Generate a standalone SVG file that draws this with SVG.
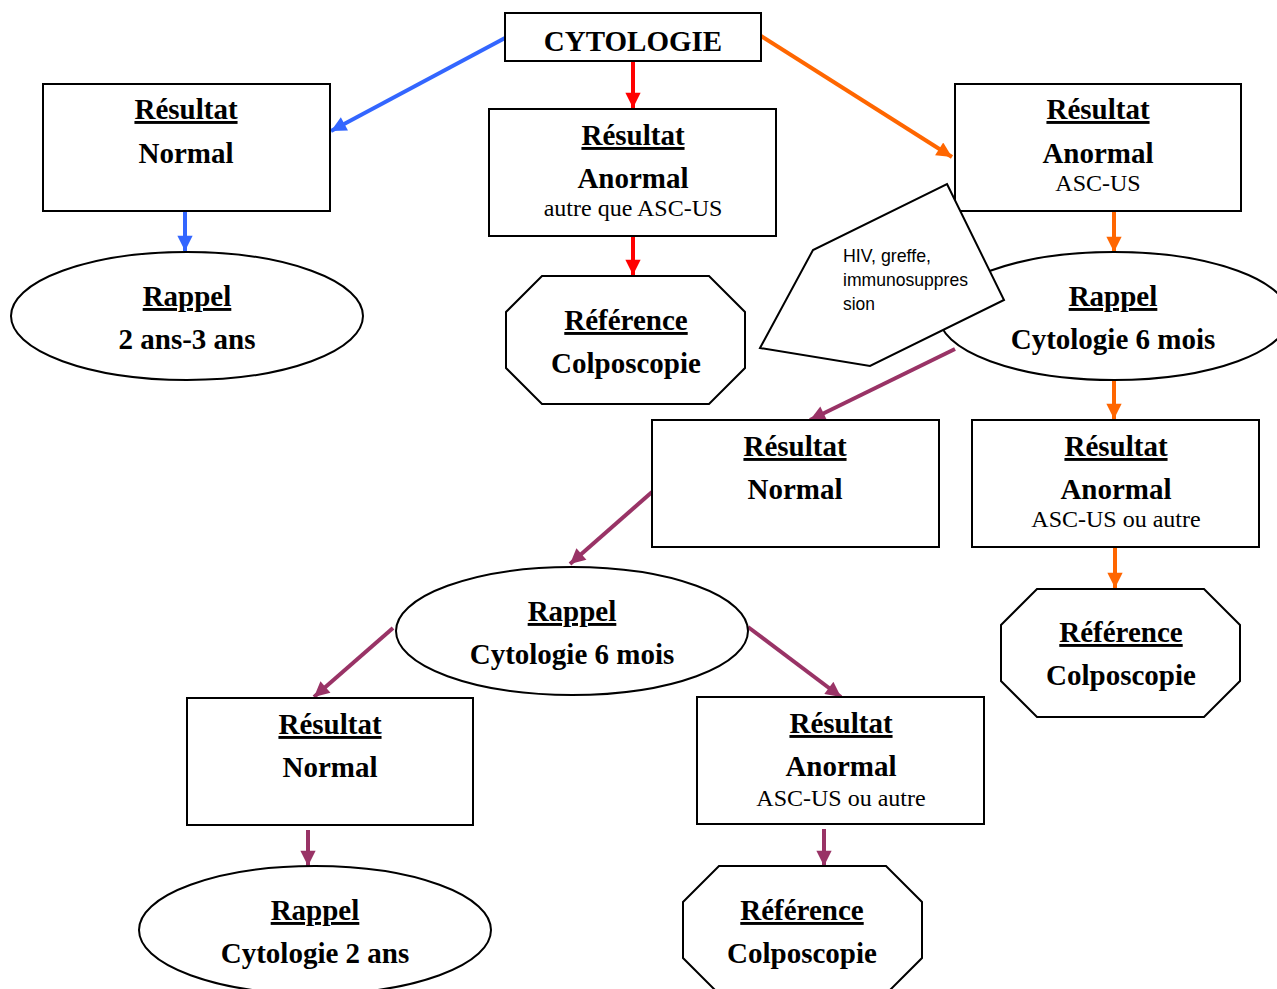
<svg xmlns="http://www.w3.org/2000/svg" width="1277" height="989" viewBox="0 0 1277 989">
<style>
.box{fill:#fff;stroke:#000;stroke-width:2}
.t{font-family:"Liberation Serif","Times New Roman",serif;font-weight:bold;font-size:29px;text-anchor:middle;fill:#000}
.u{text-decoration:underline}
.s{font-weight:normal;font-size:24px}
.n{font-family:"Liberation Sans Narrow","Liberation Sans",Arial,sans-serif;font-size:19px;fill:#000}
.c{fill:none;stroke-width:4}
.bl{stroke:#3366FF}.rd{stroke:#FF0000}.or{stroke:#FF6600}.pu{stroke:#993366}
</style>
<defs>
<marker id="ab" viewBox="0 0 10 10" refX="10" refY="5" markerWidth="4.2" markerHeight="3.8" orient="auto"><path d="M0,0L10,5L0,10z" fill="#3366FF"/></marker>
<marker id="ar" viewBox="0 0 10 10" refX="10" refY="5" markerWidth="4.2" markerHeight="3.8" orient="auto"><path d="M0,0L10,5L0,10z" fill="#FF0000"/></marker>
<marker id="ao" viewBox="0 0 10 10" refX="10" refY="5" markerWidth="4.2" markerHeight="3.8" orient="auto"><path d="M0,0L10,5L0,10z" fill="#FF6600"/></marker>
<marker id="ap" viewBox="0 0 10 10" refX="10" refY="5" markerWidth="4.2" markerHeight="3.8" orient="auto"><path d="M0,0L10,5L0,10z" fill="#993366"/></marker>
</defs>
<rect width="1277" height="989" fill="#fff"/>

<g id="connectors">
<line class="c bl" x1="505" y1="38" x2="331" y2="131" marker-end="url(#ab)"/>
<line class="c bl" x1="185" y1="211" x2="185" y2="251" marker-end="url(#ab)"/>
<line class="c rd" x1="633" y1="61" x2="633" y2="108" marker-end="url(#ar)"/>
<line class="c rd" x1="633" y1="236" x2="633" y2="275" marker-end="url(#ar)"/>
<line class="c or" x1="761" y1="36" x2="952" y2="157" marker-end="url(#ao)"/>
<line class="c or" x1="1114" y1="211" x2="1114" y2="252" marker-end="url(#ao)"/>
<line class="c or" x1="1114" y1="381" x2="1114" y2="419" marker-end="url(#ao)"/>
<line class="c or" x1="1115" y1="547" x2="1115" y2="588" marker-end="url(#ao)"/>
<line class="c pu" x1="955" y1="349" x2="810" y2="420" marker-end="url(#ap)"/>
<line class="c pu" x1="652" y1="492" x2="570" y2="564" marker-end="url(#ap)"/>
<line class="c pu" x1="393" y1="628" x2="314" y2="697" marker-end="url(#ap)"/>
<line class="c pu" x1="748" y1="627" x2="841" y2="697" marker-end="url(#ap)"/>
<line class="c pu" x1="308" y1="830" x2="308" y2="866" marker-end="url(#ap)"/>
<line class="c pu" x1="824" y1="829" x2="824" y2="866" marker-end="url(#ap)"/>
</g>

<g id="cytologie">
<rect class="box" x="505" y="13" width="256" height="48"/>
<text class="t" x="633" y="51">CYTOLOGIE</text>
</g>

<g id="res-normal-1">
<rect class="box" x="43" y="84" width="287" height="127"/>
<text class="t u" x="186" y="119">Résultat</text>
<text class="t" x="186" y="163">Normal</text>
</g>

<g id="rappel-1">
<ellipse class="box" cx="187" cy="316" rx="176" ry="64"/>
<text class="t u" x="187" y="306">Rappel</text>
<text class="t" x="187" y="349">2 ans-3 ans</text>
</g>

<g id="res-anormal-autre">
<rect class="box" x="489" y="109" width="287" height="127"/>
<text class="t u" x="633" y="145">Résultat</text>
<text class="t" x="633" y="188">Anormal</text>
<text class="t s" x="633" y="216">autre que ASC-US</text>
</g>

<g id="reference-1">
<polygon class="box" points="506,312 542,276 709,276 745,312 745,368 709,404 542,404 506,368"/>
<text class="t u" x="626" y="330">Référence</text>
<text class="t" x="626" y="373">Colposcopie</text>
</g>

<g id="res-anormal-ascus">
<rect class="box" x="955" y="84" width="286" height="127"/>
<text class="t u" x="1098" y="119">Résultat</text>
<text class="t" x="1098" y="163">Anormal</text>
<text class="t s" x="1098" y="191">ASC-US</text>
</g>

<g id="rappel-2">
<ellipse class="box" cx="1114" cy="316" rx="175" ry="64"/>
<text class="t u" x="1113" y="306">Rappel</text>
<text class="t" x="1113" y="349">Cytologie 6 mois</text>
</g>

<g id="callout">
<polygon class="box" points="947,184 1004,300 870,366 760,348 813,250"/>
<text class="n" x="843" y="262" textLength="88" lengthAdjust="spacingAndGlyphs">HIV, greffe,</text>
<text class="n" x="843" y="286" textLength="125" lengthAdjust="spacingAndGlyphs">immunosuppres</text>
<text class="n" x="843" y="310" textLength="32" lengthAdjust="spacingAndGlyphs">sion</text>
</g>

<g id="res-normal-2">
<rect class="box" x="652" y="420" width="287" height="127"/>
<text class="t u" x="795" y="456">Résultat</text>
<text class="t" x="795" y="499">Normal</text>
</g>

<g id="res-anormal-2">
<rect class="box" x="972" y="420" width="287" height="127"/>
<text class="t u" x="1116" y="456">Résultat</text>
<text class="t" x="1116" y="499">Anormal</text>
<text class="t s" x="1116" y="527">ASC-US ou autre</text>
</g>

<g id="reference-2">
<polygon class="box" points="1001,625 1037,589 1204,589 1240,625 1240,681 1204,717 1037,717 1001,681"/>
<text class="t u" x="1121" y="642">Référence</text>
<text class="t" x="1121" y="685">Colposcopie</text>
</g>

<g id="rappel-3">
<ellipse class="box" cx="572" cy="631" rx="176" ry="64"/>
<text class="t u" x="572" y="621">Rappel</text>
<text class="t" x="572" y="664">Cytologie 6 mois</text>
</g>

<g id="res-normal-3">
<rect class="box" x="187" y="698" width="286" height="127"/>
<text class="t u" x="330" y="734">Résultat</text>
<text class="t" x="330" y="777">Normal</text>
</g>

<g id="res-anormal-3">
<rect class="box" x="697" y="697" width="287" height="127"/>
<text class="t u" x="841" y="733">Résultat</text>
<text class="t" x="841" y="776">Anormal</text>
<text class="t s" x="841" y="806">ASC-US ou autre</text>
</g>

<g id="rappel-4">
<ellipse class="box" cx="315" cy="930" rx="176" ry="64"/>
<text class="t u" x="315" y="920">Rappel</text>
<text class="t" x="315" y="963">Cytologie 2 ans</text>
</g>

<g id="reference-3">
<polygon class="box" points="683,902 719,866 886,866 922,902 922,958 886,994 719,994 683,958"/>
<text class="t u" x="802" y="920">Référence</text>
<text class="t" x="802" y="963">Colposcopie</text>
</g>
</svg>
